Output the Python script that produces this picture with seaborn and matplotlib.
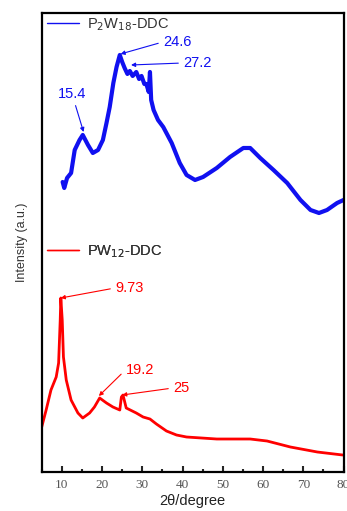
import matplotlib
matplotlib.use("Agg")
import matplotlib.pyplot as plt
import seaborn as sns
import pandas as pd
from matplotlib.ticker import MultipleLocator
from matplotlib.lines import Line2D

# XRD patterns (2θ in degrees, intensity in arbitrary offset units)
p2w18_theta = [10.2, 10.6, 11.3, 12.3, 13.2, 14.4, 15.2, 16.5, 17.7, 19.0, 20.2, 21.1,
               21.9, 22.8, 23.6, 24.4, 25.0, 25.6, 26.3, 26.9, 27.6, 28.5, 29.2, 29.8,
               30.5, 31.0, 31.6, 31.9, 32.2, 32.8, 33.9, 35.2, 37.3, 39.3, 41.0, 43.1,
               45.1, 48.5, 51.8, 55.1, 56.8, 59.3, 62.6, 66.0, 69.3, 71.8, 73.9, 75.9,
               78.4, 80.0]
p2w18_int = [290, 284, 294, 299, 322, 332, 337, 327, 319, 322, 332, 349,
             365, 389, 405, 417, 410, 404, 398, 401, 396, 400, 393, 396,
             388, 388, 380, 400, 372, 362, 352, 345, 329, 309, 297, 292,
             295, 304, 315, 324, 324, 314, 302, 289, 272, 262, 259, 262,
             269, 272]

pw12_theta = [5.0, 6.1, 7.3, 8.6, 9.2, 9.6, 9.75, 10.1, 10.4, 11.1, 12.3, 14.0,
              15.2, 16.9, 18.1, 19.4, 21.1, 22.7, 24.4, 24.8, 25.2, 26.0, 28.5, 30.2,
              31.9, 33.5, 36.0, 38.5, 41.0, 48.5, 56.8, 61.0, 66.8, 73.5, 79.8]
pw12_int = [45, 62, 82, 95, 109, 152, 174, 152, 115, 92, 72, 59,
            54, 59, 65, 74, 69, 65, 62, 75, 77, 64, 59, 55,
            53, 48, 41, 37, 35, 33, 33, 31, 25, 20, 17]

series_names = ["P$_2$W$_{18}$-DDC", "PW$_{12}$-DDC"]
series_colors = ["#1010f0", "#ff0000"]

# Peak labels: (series index, label, 2θ of peak, intensity at tip, text x, text y)
peak_labels = [
    (0, "15.4", 15.4, 340, 8.9, 378),
    (0, "24.6", 24.6, 418, 35.1, 430),
    (0, "27.2", 27.2, 407, 40.1, 409),
    (1, "9.73", 9.73, 174, 23.2, 184),
    (1, "19.2", 19.2, 76, 25.8, 102),
    (1, "25", 25.0, 77, 37.6, 84),
]
x_ticks = [10, 20, 30, 40, 50, 60, 70, 80]

df = pd.concat([
    pd.DataFrame({"theta": p2w18_theta, "intensity": p2w18_int, "sample": series_names[0]}),
    pd.DataFrame({"theta": pw12_theta, "intensity": pw12_int, "sample": series_names[1]}),
])

sns.set_style("ticks")
plt.rcParams["font.family"] = ["Liberation Sans", "DejaVu Sans"]

fig = plt.figure(figsize=(3.47, 5.11), dpi=100)
ax = fig.add_axes([0.1202, 0.0763, 0.8698, 0.8983])

sns.lineplot(data=df, x="theta", y="intensity", hue="sample",
             palette=dict(zip(series_names, series_colors)),
             linewidth=2.4, sort=False, estimator=None, legend=False, ax=ax)
for ln, lw in zip(ax.lines, [3.0, 2.0]):
    ln.set_linewidth(lw)
    ln.set_solid_joinstyle("round")

ax.set_xlim(5, 80)
ax.set_ylim(0, 459)
ax.set_xticks(x_ticks)
ax.xaxis.set_minor_locator(MultipleLocator(5))
ax.set_yticks([])
ax.tick_params(axis="x", which="major", direction="in", length=4.5, width=1.5,
               pad=5, labelsize=9.5, labelcolor="#555555")
ax.tick_params(axis="x", which="minor", direction="in", length=2.2, width=1.5)
for lab in ax.get_xticklabels():
    lab.set_fontfamily(["Liberation Serif", "DejaVu Serif"])
for sp in ax.spines.values():
    sp.set_visible(True)
    sp.set_linewidth(1.6)
    sp.set_color("black")

ax.set_xlabel("2θ/degree", fontsize=10.5, color="#222222", labelpad=2)
ax.set_ylabel("Intensity (a.u.)", fontsize=9, color="#333333", labelpad=10)

# Per-series legends
leg_pos = [(0.0175, 0.974), (0.0175, 0.481)]
for name, col, pos in zip(series_names, series_colors, leg_pos):
    handle = Line2D([], [], color=col, linewidth=1.0)
    leg = ax.legend([handle], [name], loc="center left", bbox_to_anchor=pos,
                    frameon=False, borderpad=0, borderaxespad=0,
                    handlelength=2.2, handletextpad=0.55, fontsize=10.5,
                    labelcolor="#333333")
    ax.add_artist(leg)

# Peak annotations
for idx, text, px, py, tx, ty in peak_labels:
    col = series_colors[idx]
    relpos = (0.59, 0.0) if text == "15.4" else (0.0, 0.5)
    ax.annotate(text, xy=(px, py), xytext=(tx, ty), ha="left", va="center",
                fontsize=10.5, color=col,
                arrowprops=dict(arrowstyle="-|>", color=col, lw=0.8,
                                mutation_scale=6, shrinkA=1, shrinkB=0,
                                relpos=relpos))

fig.savefig("out.png", dpi=100)
